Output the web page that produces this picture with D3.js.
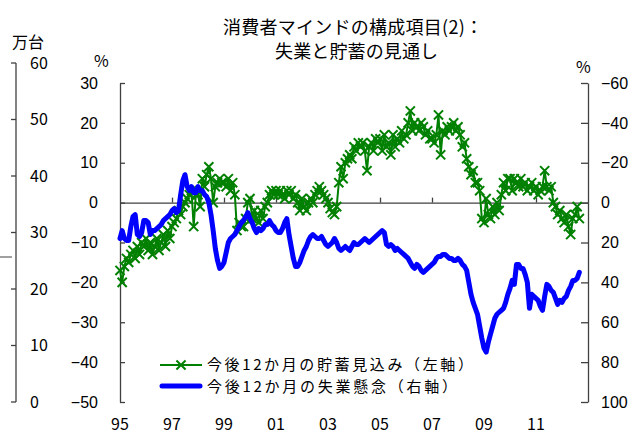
<!DOCTYPE html>
<html><head><meta charset="utf-8">
<script src="https://cdn.jsdelivr.net/npm/d3@7"></script>
<style>
html,body{margin:0;padding:0;background:#fff;}
svg{display:block;font-family:"Noto Sans CJK JP","Noto Sans",sans-serif;}
</style></head>
<body>
<svg id="chart" width="638" height="435"></svg>
<script>
// ---- data (monthly, Jan 1995 - Sep 2012) ----
const startYear = 1995;
// 今後12か月の貯蓄見込み（左軸, %）
const savingsOutlook = [
 -17,-20,-16,-14,-15,-13,-12,-14,-11,-13,-10,-11,   // 1995
 -9,-12,-10,-13,-11,-9,-12,-10,-8,-11,-7,-9,        // 1996
 -6,-5,-4,-2,-3,-1,0,1,2,3,-6,2,                    // 1997
 2,-1,6,4,7,9,6,0,4,5,6,5,                          // 1998
 5,4,6,3,5,2,-7,-5,-6,-6,-4,0,                      // 1999
 1,-4,-2,-4,-5,-2,-4,-1,0,2,3,2,                    // 2000
 3,2,3,2,1,3,2,3,1,2,0,-2,                          // 2001
 1,-1,-2,0,1,0,2,3,4,3,2,1,                         // 2002
 0,-1.5,-2.5,-3,-1,5,9,6,10,11,12,11,               // 2003
 14,13,15,14,15,13,8,14,15,13,16,15,                // 2004
 16,13,17,14,15,12,17,14,16,15,18,16,               // 2005
 17,20,23,18,20,19,18,20,19,17,18,16,               // 2006
 16,15,17,22,12,18,17,19,18,19,20,18,               // 2007
 19,17,14,15,11,9,7,8,5,5,3,-4,                     // 2008
 -5,1,-3,-4,-1,-3,0,-2,2,5,3,6,                     // 2009
 6,3,6,5,4,6,4,5,3,4,5,3,                           // 2010
 4,2,3,4,8,4,3,4,0,-1,-3,-2,                        // 2011
 -4,-5,-3,-6,-8,-4,-3,-1,-4                         // 2012
];
// 今後12か月の失業懸念（右軸, %）
const unemploymentConcern = [
 18,14,18,19,19,12,7,6,16,17,15,9,                  // 1995
 9,10,16,14,14,13,12,11,9,8,7,6,                    // 1996
 4,3,5,4,-4,-11,-14,-8,-6,-8,-5,-5,                 // 1997
 -8,-6,-6,-4,-3,0,6,14,23,29,33,32,                 // 1998
 30,25,20,18,17,16,14,12,10,9,7,5,                  // 1999
 8,10,13,15,13,14,13,11,11,9,11,12,                 // 2000
 14,15,15,13,10,8,16,22,28,32,32,30,                // 2001
 27,24,22,19,17,16,17,18,18,17,19,21,               // 2002
 22,21,20,18,20,23,24,23,22,23,24,22,               // 2003
 20,21,21,20,19,18,19,20,19,18,17,16,               // 2004
 15,14,15,21,22,21,22,24,23,24,25,26,               // 2005
 27,28,30,32,33,31,32,34,35,34,33,32,               // 2006
 31,30,28,27,27,26,26,27,28,28,29,29,               // 2007
 28,29,31,32,34,40,46,50,53,56,62,68,               // 2008
 73,75,70,66,62,58,56,55,54,53,50,46,               // 2009
 43,39,41,31,31,33,33,36,40,53,46,47,               // 2010
 48,49,52,54,47,41,42,44,45,48,51,49,               // 2011
 50,48,47,44,42,39,39,38,35                         // 2012
];
const leftTicks = [30,20,10,0,-10,-20,-30,-40,-50];
const rightTicks = [-60,-40,-20,0,20,40,60,80,100];
const strayTicks = [0,10,20,30,40,50,60];
const yearTicks = [1995,1997,1999,2001,2003,2005,2007,2009,2011];
const yearLabels = ["95","97","99","01","03","05","07","09","11"];
const titleLines = ["消費者マインドの構成項目(2)：","失業と貯蓄の見通し"];
const legendLabels = ["今後12か月の貯蓄見込み（左軸）","今後12か月の失業懸念（右軸）"];

// ---- scales ----
const x = d3.scaleLinear().domain([1995, 2013]).range([120, 588]);
const yL = d3.scaleLinear().domain([-50, 30]).range([402, 83]);
const yR = d3.scaleLinear().domain([-60, 100]).range([83, 402]);
const yS = d3.scaleLinear().domain([0, 60]).range([402, 63]);

const svg = d3.select("#chart");
const AX = "#404040";
const FS = 16;

// stray left axis (万台)
svg.append("line").attr("x1",0).attr("x2",12).attr("y1",257).attr("y2",257)
  .attr("stroke","#808080").attr("stroke-width",1.5);
const gs = svg.append("g").attr("transform","translate(16,0)");
gs.append("line").attr("y1",yS(60)).attr("y2",yS(0)).attr("stroke",AX).attr("stroke-width",1.3);
gs.selectAll("line.t").data(strayTicks).join("line").attr("class","t")
  .attr("x1",-5).attr("x2",0).attr("y1",d=>yS(d)).attr("y2",d=>yS(d)).attr("stroke",AX).attr("stroke-width",1.3);
gs.selectAll("text").data(strayTicks).join("text")
  .attr("x",14).attr("y",d=>yS(d)).attr("dy","0.35em").attr("font-size",FS).attr("fill","#000").text(d=>d);
svg.append("text").attr("x",12).attr("y",42).attr("dy","0.35em").attr("font-size",FS).text("万台");

// left axis
const gl = svg.append("g").attr("transform","translate(120,0)")
  .call(d3.axisLeft(yL).tickValues(leftTicks).tickSize(-5).tickSizeOuter(0).tickPadding(22));
gl.select(".domain").attr("stroke",AX).attr("stroke-width",1.3);
gl.selectAll(".tick line").attr("stroke",AX).attr("stroke-width",1.3);
gl.selectAll(".tick text").attr("font-size",FS).attr("font-family",null).attr("fill","#000");
svg.append("text").attr("x",94).attr("y",61).attr("dy","0.35em").attr("font-size",FS).text("%");

// right axis
const gr = svg.append("g").attr("transform","translate(588,0)")
  .call(d3.axisRight(yR).tickValues(rightTicks).tickSize(-7).tickSizeOuter(0).tickPadding(13));
gr.select(".domain").attr("stroke",AX).attr("stroke-width",1.3);
gr.selectAll(".tick line").attr("stroke",AX).attr("stroke-width",1.3);
gr.selectAll(".tick text").attr("font-size",FS).attr("font-family",null).attr("fill","#000");
svg.append("text").attr("x",576).attr("y",67).attr("dy","0.35em").attr("font-size",FS).text("%");

// zero line with year ticks
const gx = svg.append("g").attr("transform",`translate(0,${yL(0)})`)
  .call(d3.axisTop(x).tickValues(yearTicks.slice(1)).tickSize(5).tickSizeOuter(0).tickFormat(""));
gx.select(".domain").attr("stroke",AX).attr("stroke-width",1.3);
gx.selectAll(".tick line").attr("stroke",AX).attr("stroke-width",1.3);
svg.selectAll("text.yl").data(yearTicks).join("text").attr("class","yl")
  .attr("x",d=>x(d)).attr("y",424).attr("dy","0.35em").attr("text-anchor","middle")
  .attr("font-size",FS).text((d,i)=>yearLabels[i]);

// series
const dateOf = i => startYear + i/12;
const green = "#008000", blue = "#0000ff";
svg.append("path").datum(savingsOutlook)
  .attr("d", d3.line().x((d,i)=>x(dateOf(i))).y(d=>yL(d)))
  .attr("fill","none").attr("stroke",green).attr("stroke-width",2);
const cross = d3.symbol().type(d3.symbolTimes).size(56);
svg.append("g").selectAll("path").data(savingsOutlook).join("path")
  .attr("transform",(d,i)=>`translate(${x(dateOf(i))},${yL(d)})`)
  .attr("d",cross).attr("fill","none").attr("stroke",green).attr("stroke-width",2);
svg.append("path").datum(unemploymentConcern)
  .attr("d", d3.line().x((d,i)=>x(dateOf(i))).y(d=>yR(d)))
  .attr("fill","none").attr("stroke",blue).attr("stroke-width",5)
  .attr("stroke-linejoin","round").attr("stroke-linecap","round");

// title
svg.append("text").attr("x",223).attr("y",28).attr("dy","0.35em").attr("font-size",18)
  .attr("textLength",260).attr("lengthAdjust","spacing").text(titleLines[0]);
svg.append("text").attr("x",275).attr("y",52).attr("dy","0.35em").attr("font-size",18)
  .attr("textLength",163).attr("lengthAdjust","spacing").text(titleLines[1]);

// legend
svg.append("line").attr("x1",160).attr("x2",202).attr("y1",365).attr("y2",365)
  .attr("stroke",green).attr("stroke-width",2);
svg.append("path").attr("transform","translate(181,365)").attr("d",cross)
  .attr("fill","none").attr("stroke",green).attr("stroke-width",2);
svg.append("line").attr("x1",162).attr("x2",200).attr("y1",386).attr("y2",386)
  .attr("stroke",blue).attr("stroke-width",5).attr("stroke-linecap","round");
svg.append("text").attr("x",207).attr("y",365).attr("dy","0.35em").attr("font-size",15)
  .attr("textLength",266).attr("lengthAdjust","spacing").text(legendLabels[0]);
svg.append("text").attr("x",207).attr("y",387).attr("dy","0.35em").attr("font-size",15)
  .attr("textLength",250).attr("lengthAdjust","spacing").text(legendLabels[1]);
</script>
</body></html>
